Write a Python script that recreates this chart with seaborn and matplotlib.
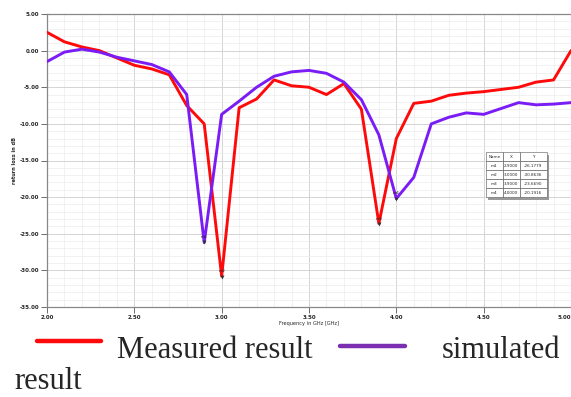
import numpy as np
import pandas as pd
import matplotlib
matplotlib.use("Agg")
import matplotlib.pyplot as plt
import seaborn as sns
from matplotlib.lines import Line2D
from matplotlib.ticker import MultipleLocator, FormatStrFormatter

# ---- data ----
freq = [2.0, 2.1, 2.2, 2.3, 2.4, 2.5, 2.6, 2.7, 2.8, 2.9, 3.0, 3.1, 3.2, 3.3, 3.4, 3.5,
        3.6, 3.7, 3.8, 3.9, 4.0, 4.1, 4.2, 4.3, 4.4, 4.5, 4.6, 4.7, 4.8, 4.9, 5.0]
measured = [2.5, 1.2, 0.5, 0.0, -1.0, -2.0, -2.5, -3.3, -7.5, -10.0, -30.8, -7.8, -6.6,
            -4.0, -4.8, -5.0, -6.0, -4.5, -8.0, -23.6, -12.0, -7.2, -6.9, -6.1, -5.8,
            -5.6, -5.3, -5.0, -4.3, -4.0, 0.0]
simulated = [-1.5, -0.2, 0.2, -0.2, -0.9, -1.4, -1.9, -2.9, -6.0, -26.2, -8.7, -6.9, -5.0,
             -3.5, -2.9, -2.7, -3.1, -4.3, -6.7, -11.5, -20.2, -17.3, -10.0, -9.1, -8.5,
             -8.7, -7.9, -7.1, -7.4, -7.3, -7.1]
x_ticks = [2.0, 2.5, 3.0, 3.5, 4.0, 4.5, 5.0]
x_tick_labels = ["2.00", "2.50", "3.00", "3.50", "4.00", "4.50", "5.00"]
marker_names = ["m1", "m2", "m3", "m4"]
marker_x = [2.9, 3.0, 3.9, 4.0]
marker_y = [-26.1779, -30.8636, -23.6690, -20.1916]
series_labels = ["Measured result", "simulated"]

df = pd.DataFrame({
    "freq": freq * 2,
    "value": measured + simulated,
    "series": [series_labels[0]] * len(freq) + [series_labels[1]] * len(freq),
})

sns.set_style("white")
plt.rcParams["font.family"] = ["DejaVu Sans"]

fig = plt.figure(figsize=(5.71, 3.97), dpi=100)
ax = fig.add_axes([47 / 571, 1 - 307 / 397, 524 / 571, 293 / 397])

red = "#FF0A0A"
purple = "#7A1CF5"
sns.lineplot(data=df, x="freq", y="value", hue="series",
             palette={series_labels[0]: red, series_labels[1]: purple},
             linewidth=2.1, legend=False, ax=ax, zorder=3)

ax.set_xlim(2.0, 5.0)
ax.set_ylim(-35, 5)
ax.set_xticks(x_ticks, x_tick_labels)
ax.xaxis.set_minor_locator(MultipleLocator(0.1))
ax.yaxis.set_major_locator(MultipleLocator(5))
ax.yaxis.set_minor_locator(MultipleLocator(1))
ax.yaxis.set_major_formatter(FormatStrFormatter("%.2f"))
ax.grid(which="major", color="#d4d4d4", linewidth=0.7, zorder=0)
ax.grid(which="minor", color="#ececec", linewidth=0.5, zorder=0)
ax.tick_params(axis="both", which="major", direction="out", length=4, width=0.6,
               color="#555555", labelsize=4, pad=1.5)
ax.tick_params(axis="both", which="minor", direction="out", length=2, width=0.5,
               color="#555555")
ax.tick_params(left=True, bottom=True)
for lab in ax.get_xticklabels() + ax.get_yticklabels():
    lab.set_fontweight("bold")
ax.get_xticklabels()[-1].set_horizontalalignment("right")
for s in ["top", "left", "bottom"]:
    ax.spines[s].set_color("#888888")
    ax.spines[s].set_linewidth(0.9)
ax.spines["right"].set_visible(False)
ax.set_xlabel("Frequency in GHz [GHz]", fontsize=3.6, labelpad=1)
ax.set_ylabel("return loss in dB", fontsize=3.6, labelpad=2, fontweight="bold")

# markers
ax.scatter(marker_x, marker_y, marker="v", s=8, color="#333333", zorder=5, linewidths=0)
for n, mx, my in zip(marker_names, marker_x, marker_y):
    ax.annotate(n, (mx, my), xytext=(0, 2.5), textcoords="offset points",
                ha="center", va="bottom", fontsize=3.2, color="#222222", zorder=6)

# marker table
cells = [[n, f"{x:.4f}", f"{y:.4f}"] for n, x, y in zip(marker_names, marker_x, marker_y)]
shadow = plt.Rectangle((0.842, 0.365), 0.1166, 0.154, transform=ax.transAxes,
                       facecolor="#9a9a9a", edgecolor="none", zorder=6)
ax.add_patch(shadow)
tab = ax.table(cellText=cells, colLabels=["Name", "X", "Y"],
               colWidths=[0.032, 0.032, 0.052], cellLoc="center",
               bbox=[0.8375, 0.375, 0.1166, 0.154], zorder=7)
tab.auto_set_font_size(False)
tab.set_fontsize(3.0)
for (r, c), cell in tab.get_celld().items():
    cell.set_edgecolor("#555555")
    cell.set_linewidth(0.4)
    cell.set_facecolor("white")
    cell.set_zorder(7)

# legend (figure-level, serif)
fig.add_artist(Line2D([37 / 571, 101 / 571], [1 - 341 / 397, 1 - 341 / 397],
                      color=red, linewidth=3.2))
fig.add_artist(Line2D([340 / 571, 405 / 571], [1 - 346 / 397, 1 - 346 / 397],
                      color="#7B2FB0", linewidth=3.2))
fig.text(117 / 571, 1 - 358 / 397, "Measured result", fontsize=22,
         family="Liberation Serif", va="baseline", ha="left")
fig.text(560 / 571, 1 - 358 / 397, "simulated", fontsize=22,
         family="Liberation Serif", va="baseline", ha="right")
fig.text(14 / 571, 1 - 389 / 397, "result", fontsize=22,
         family="Liberation Serif", va="baseline", ha="left")

fig.savefig("out.png", dpi=100, facecolor="white")
